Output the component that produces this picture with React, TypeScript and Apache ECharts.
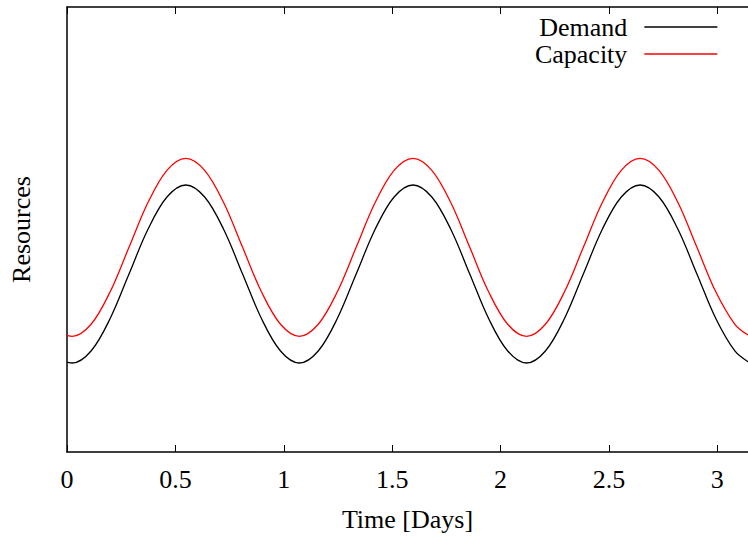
import React, { useEffect, useRef } from "react";
import * as echarts from "echarts";

// Time in days (sample points)
const timeDays: number[] = [
  0, 0.024, 0.111, 0.199, 0.286, 0.373, 0.461, 0.548, 0.635, 0.723, 0.81, 0.897, 0.985,
  1.072, 1.159, 1.247, 1.334, 1.421, 1.509, 1.596, 1.683, 1.771, 1.858, 1.945, 2.033,
  2.12, 2.207, 2.295, 2.382, 2.469, 2.557, 2.644, 2.731, 2.819, 2.906, 2.993, 3.081, 3.1416,
];

const demand: number[] = [
  2.02, 2.0, 2.27, 3.0, 4.0, 5.0, 5.73, 6.0, 5.73, 5.0, 4.0, 3.0, 2.27,
  2.0, 2.27, 3.0, 4.0, 5.0, 5.73, 6.0, 5.73, 5.0, 4.0, 3.0, 2.27,
  2.0, 2.27, 3.0, 4.0, 5.0, 5.73, 6.0, 5.73, 5.0, 4.0, 3.0, 2.27, 2.03,
];

const capacity: number[] = [
  2.62, 2.6, 2.87, 3.6, 4.6, 5.6, 6.33, 6.6, 6.33, 5.6, 4.6, 3.6, 2.87,
  2.6, 2.87, 3.6, 4.6, 5.6, 6.33, 6.6, 6.33, 5.6, 4.6, 3.6, 2.87,
  2.6, 2.87, 3.6, 4.6, 5.6, 6.33, 6.6, 6.33, 5.6, 4.6, 3.6, 2.87, 2.63,
];

const seriesNames: string[] = ["Demand", "Capacity"];
const xTicks: number[] = [0, 0.5, 1, 1.5, 2, 2.5, 3];

const FONT = "'Liberation Serif', 'Times New Roman', serif";

export default function App() {
  const ref = useRef<HTMLDivElement>(null);

  useEffect(() => {
    if (!ref.current) return;
    const chart = echarts.init(ref.current, undefined, { renderer: "svg" });
    const toPairs = (ys: number[]) => timeDays.map((t, i) => [t, ys[i]]);
    const axisLine = { show: true, lineStyle: { color: "#000", width: 1.5 } };
    chart.setOption({
      animation: false,
      backgroundColor: "#fff",
      textStyle: { fontFamily: FONT },
      grid: { left: 64, right: -1, top: 7, bottom: 83, containLabel: false },
      legend: {
        orient: "vertical",
        align: "right",
        right: 25,
        top: 9,
        itemWidth: 73,
        itemHeight: 14,
        itemGap: 1,
        data: seriesNames,
        itemStyle: { opacity: 0 },
        lineStyle: { width: 1.3 },
        textStyle: {
          fontFamily: FONT,
          fontSize: 26,
          color: "#000",
          lineHeight: 26,
          padding: [0, 12, 0, 0],
        },
      },
      xAxis: [
        {
          type: "value",
          position: "bottom",
          min: 0,
          max: 3.1416,
          interval: 0.5,
          axisLine,
          axisTick: { show: true, inside: true, length: 7, lineStyle: { color: "#000", width: 1 } },
          splitLine: { show: false },
          axisLabel: {
            margin: 14,
            fontFamily: FONT,
            fontSize: 26,
            color: "#000",
            showMaxLabel: false,
            formatter: (v: number) => (xTicks.includes(v) ? String(v) : ""),
          },
          name: "Time [Days]",
          nameLocation: "middle",
          nameGap: 54,
          nameTextStyle: { fontFamily: FONT, fontSize: 26, color: "#000" },
        },
        {
          type: "value",
          position: "top",
          min: 0,
          max: 3.1416,
          interval: 0.5,
          axisLine,
          axisTick: { show: true, inside: true, length: 7, lineStyle: { color: "#000", width: 1 } },
          splitLine: { show: false },
          axisLabel: { show: false },
        },
      ],
      yAxis: {
        type: "value",
        min: 0,
        max: 10,
        axisLine,
        axisTick: { show: false },
        axisLabel: { show: false },
        splitLine: { show: false },
        name: "Resources",
        nameLocation: "middle",
        nameGap: 33,
        nameTextStyle: { fontFamily: FONT, fontSize: 26, color: "#000" },
      },
      series: [
        {
          name: seriesNames[0],
          type: "line",
          data: toPairs(demand),
          smooth: 0.35,
          symbol: "none",
          showSymbol: false,
          lineStyle: { color: "#000", width: 1.3 },
          itemStyle: { color: "#000" },
        },
        {
          name: seriesNames[1],
          type: "line",
          data: toPairs(capacity),
          smooth: 0.35,
          symbol: "none",
          showSymbol: false,
          lineStyle: { color: "#ff0000", width: 1.3 },
          itemStyle: { color: "#ff0000" },
        },
      ],
    });
    return () => chart.dispose();
  }, []);

  return <div ref={ref} style={{ width: 748, height: 537, position: "fixed", left: 0, top: 0 }} />;
}
